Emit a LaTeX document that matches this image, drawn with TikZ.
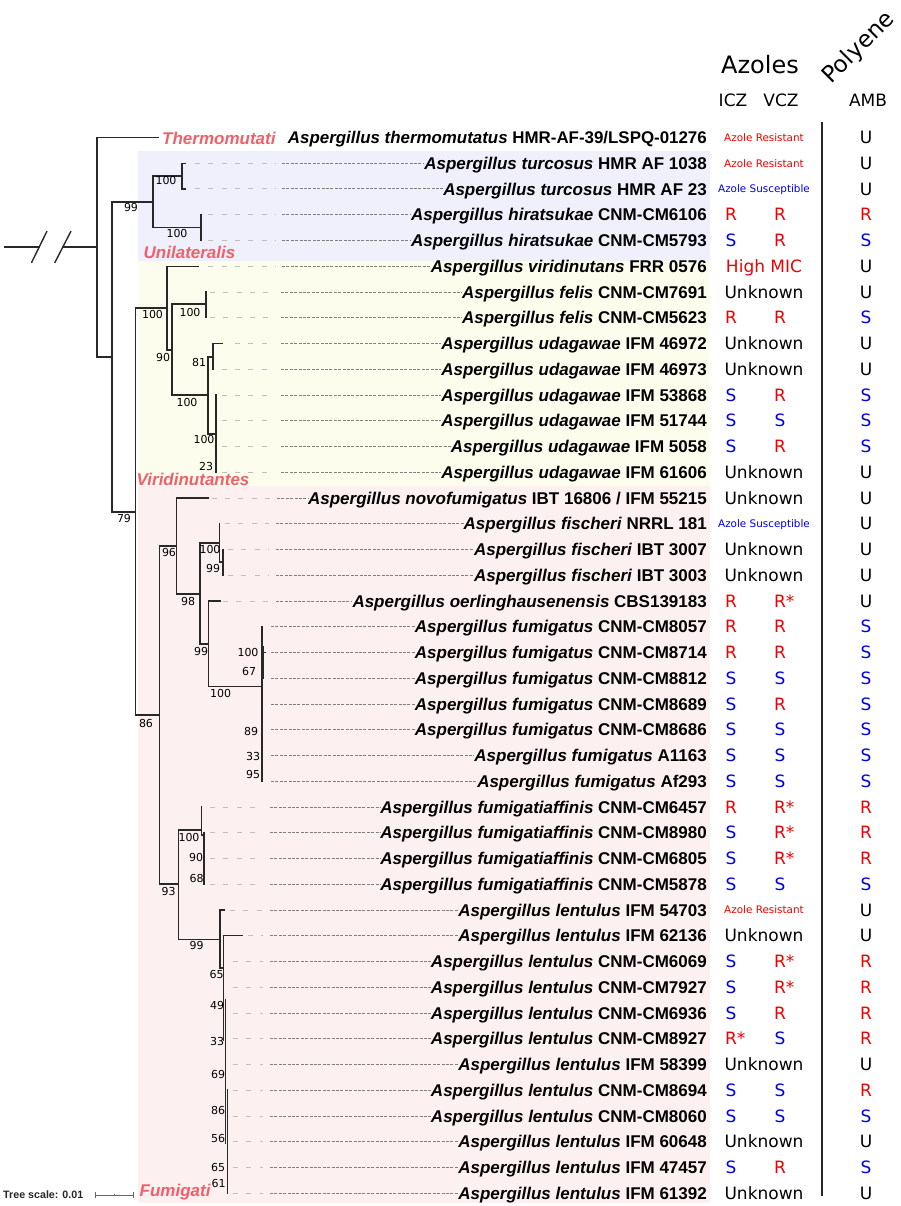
\documentclass[tikz,border=0pt]{standalone}
\usepackage{fontspec}
\setmainfont{Liberation Sans}
\newfontfamily\dv{DejaVu Sans}
\definecolor{clade}{RGB}{240,96,106}
\definecolor{lav}{RGB}{240,240,252}
\definecolor{yel}{RGB}{253,253,237}
\definecolor{pnk}{RGB}{253,240,240}
\definecolor{brc}{RGB}{40,40,40}
\definecolor{rd}{RGB}{240,0,0}
\definecolor{bl}{RGB}{0,0,230}
\tikzset{
 brl/.style={draw=brc, line width=1.4pt, line cap=rect, line join=miter},
 sup/.style={font=\dv\fontsize{11}{13}\selectfont, inner sep=0pt, text height=8pt, text depth=0pt},
 taxon/.style={font=\fontsize{17}{20}\selectfont\bfseries, anchor=east, inner sep=0pt, text height=12.2pt, text depth=0pt},
 clab/.style={font=\fontsize{17}{20}\selectfont\bfseries\itshape, text=clade, anchor=west, inner sep=0pt, text height=12.2pt, text depth=0pt},
 cell/.style={font=\dv\fontsize{17}{20}\selectfont, inner sep=0pt, text height=12.4pt, text depth=0pt},
 smallcell/.style={font=\dv\fontsize{10.4}{12}\selectfont, inner sep=0pt, text height=7.6pt, text depth=0pt},
 sparse/.style={draw=black!25, line width=1pt, dash pattern=on 5pt off 8.33pt},
 dense/.style={draw=black!50, line width=1pt, dash pattern=on 3pt off 1.4pt},
}
\newcommand\tx[6]{%
 \node[taxon] (t#1) at (707,#2) {\textit{Aspergillus #3} #4};
 \ifdim #5pt<\dimexpr #6pt-10pt\relax \draw[sparse] (#5,#2) -- ({#6-7},#2);\fi
 \draw[dense] (#6,#2) -- (t#1.west);
}
\newcommand\three[8]{%
 \node[cell,text=#3] (i#1) at (731,#2) {#4};
 \node[cell,text=#5] (v#1) at (780,#2) {#6};
 \node[cell,text=#7] (a#1) at (866,#2) {#8};
}
\newcommand\one[7]{%
 \node[#3,text=#4] (w#1) at (764,#2) {#5};
 \node[cell,text=#6] (a#1) at (866,#2) {#7};
}
\newcommand\Rs{R\rlap{*}}
\begin{document}
\begin{tikzpicture}[x=1pt,y=-1pt]
\useasboundingbox (0,0) rectangle (901,1206);
% backgrounds
\fill[lav] (138,151.5) rectangle (710,260.5);
\fill[yel] (138,260.5) rectangle (710,486);
\fill[pnk] (138,486) rectangle (710,1203);
% root with break
\draw[brl] (5,247) -- (39,247);
\draw[brl] (63,247) -- (97,247);
\draw[brl] (31.7,262.3) -- (46.7,231.7);
\draw[brl] (55,262.3) -- (70.7,231.7);
% tree
\draw[brl] (158,137.5) -- (97,137.5) -- (97,357) -- (112,357);
\draw[brl] (153,202) -- (112,202) -- (112,512) -- (135.5,512);
\draw[brl] (182,176) -- (153,176) -- (153,227.5) -- (201,227.5);
\draw[brl] (185,163.25) -- (182,163.25) -- (182,189) -- (185,189);
\draw[brl] (201,214.75) -- (201,240.5);
\draw[brl] (167,308) -- (135.5,308) -- (135.5,715) -- (159.3,715);
\draw[brl] (198,266.25) -- (167,266.25) -- (167,350) -- (172,350);
\draw[brl] (206,304) -- (172,304) -- (172,395) -- (208,395);
\draw[brl] (206,292) -- (206,317.75);
\draw[brl] (213,357) -- (208,357) -- (208,434) -- (216,434);
\draw[brl] (222,343.5) -- (213,343.5) -- (213,369.25);
\draw[brl] (216,395) -- (216,472.25);
\draw[brl] (176.7,546) -- (159.3,546) -- (159.3,884) -- (178.3,884);
\draw[brl] (208,498) -- (176.7,498) -- (176.7,594) -- (200,594);
\draw[brl] (219.5,543) -- (200,543) -- (200,644) -- (208.7,644);
\draw[brl] (219.5,523.75) -- (219.5,562) -- (223,562);
\draw[brl] (223,549.5) -- (223,575.25);
\draw[brl] (220,601) -- (208.7,601) -- (208.7,686.7) -- (262,686.7);
\draw[brl] (262,626.75) -- (262,781.25);
\draw[brl] (263.5,647) -- (263.5,678);
\draw[brl] (262,652.5) -- (265.5,652.5);
\draw[brl] (201.5,830) -- (178.3,830) -- (178.3,939.3) -- (220,939.3);
\draw[brl] (201.5,807) -- (201.5,835) -- (204,835);
\draw[brl] (204,832.75) -- (204,884.25);
\draw[brl] (224,910) -- (220,910) -- (220,968) -- (223.5,968);
\draw[brl] (242.7,935.75) -- (223.5,935.75) -- (223.5,1040);
\draw[brl] (225.5,1000) -- (225.5,1143);
\draw[brl] (227.5,1090) -- (227.5,1193.25);
% support values
\node[sup] (s1) at (131,208) {99};
\node[sup] (s2) at (166,181) {100};
\node[sup] (s3) at (177,233) {100};
\node[sup] (s4) at (124,518) {79};
\node[sup] (s5) at (152.5,314) {100};
\node[sup] (s6) at (163,357) {90};
\node[sup] (s7) at (190,312) {100};
\node[sup] (s8) at (187,402) {100};
\node[sup] (s9) at (199,362) {81};
\node[sup] (s10) at (204,439) {100};
\node[sup] (s11) at (206,466) {23};
\node[sup] (s12) at (146,723) {86};
\node[sup] (s13) at (169,552) {96};
\node[sup] (s14) at (188,601) {98};
\node[sup] (s15) at (210,549) {100};
\node[sup] (s16) at (213,568) {99};
\node[sup] (s17) at (201,651) {99};
\node[sup] (s18) at (220.7,693) {100};
\node[sup] (s19) at (248,652) {100};
\node[sup] (s20) at (249,671) {67};
\node[sup] (s21) at (251,731) {89};
\node[sup] (s22) at (253,756) {33};
\node[sup] (s23) at (253,774) {95};
\node[sup] (s24) at (168.7,891) {93};
\node[sup] (s25) at (189,837) {100};
\node[sup] (s26) at (196,857) {90};
\node[sup] (s27) at (196.5,878) {68};
\node[sup] (s28) at (196.7,945) {99};
\node[sup] (s29) at (216.7,974) {65};
\node[sup] (s30) at (217,1005) {49};
\node[sup] (s31) at (217,1041) {33};
\node[sup] (s32) at (218,1074) {69};
\node[sup] (s33) at (218,1110) {86};
\node[sup] (s34) at (218,1138) {56};
\node[sup] (s35) at (218,1167) {65};
\node[sup] (s36) at (218.7,1183) {61};
% clade labels
\node[clab] (cT) at (162,138.7) {Thermomutati};
\node[clab] (cU) at (143.5,252.5) {Unilateralis};
\node[clab] (cV) at (136.5,479.5) {Viridinutantes};
\node[clab] (cF) at (139.5,1190.3) {Fumigati};
% taxa
\node[taxon,font=\fontsize{16.9}{20}\selectfont\bfseries] (t1) at (707,137.5) {\textit{Aspergillus thermomutatus} HMR-AF-39/LSPQ-01276};
\tx{2}{163.25}{turcosus}{HMR AF 1038}{195}{282}
\tx{3}{189}{turcosus}{HMR AF 23}{195}{282}
\tx{4}{214.75}{hiratsukae}{CNM-CM6106}{208.3}{282}
\tx{5}{240.5}{hiratsukae}{CNM-CM5793}{208.3}{282}
\tx{6}{266.25}{viridinutans}{FRR 0576}{208.3}{282}
\tx{7}{292}{felis}{CNM-CM7691}{210}{281}
\tx{8}{317.75}{felis}{CNM-CM5623}{210}{281}
\tx{9}{343.5}{udagawae}{IFM 46972}{235}{281}
\tx{10}{369.25}{udagawae}{IFM 46973}{221.7}{281}
\tx{11}{395}{udagawae}{IFM 53868}{221.7}{281}
\tx{12}{420.75}{udagawae}{IFM 51744}{221.7}{281}
\tx{13}{446.5}{udagawae}{IFM 5058}{221.7}{281}
\tx{14}{472.25}{udagawae}{IFM 61606}{221.7}{281}
\tx{15}{498}{novofumigatus}{IBT 16806 / IFM 55215}{211.7}{277}
\tx{16}{523.75}{fischeri}{NRRL 181}{225}{276}
\tx{17}{549.5}{fischeri}{IBT 3007}{228}{276}
\tx{18}{575.25}{fischeri}{IBT 3003}{228}{276}
\tx{19}{601}{oerlinghausenensis}{CBS139183}{223}{276}
\tx{20}{626.75}{fumigatus}{CNM-CM8057}{271}{271}
\tx{21}{652.5}{fumigatus}{CNM-CM8714}{271}{271}
\tx{22}{678.25}{fumigatus}{CNM-CM8812}{271}{271}
\tx{23}{704}{fumigatus}{CNM-CM8689}{271}{271}
\tx{24}{729.75}{fumigatus}{CNM-CM8686}{271}{271}
\tx{25}{755.5}{fumigatus}{A1163}{271}{271}
\tx{26}{781.25}{fumigatus}{Af293}{271}{271}
\tx{27}{807}{fumigatiaffinis}{CNM-CM6457}{210}{270}
\tx{28}{832.75}{fumigatiaffinis}{CNM-CM8980}{210}{270}
\tx{29}{858.5}{fumigatiaffinis}{CNM-CM6805}{210}{270}
\tx{30}{884.25}{fumigatiaffinis}{CNM-CM5878}{210}{270}
\tx{31}{910}{lentulus}{IFM 54703}{230}{270}
\tx{32}{935.75}{lentulus}{IFM 62136}{248}{270}
\tx{33}{961.5}{lentulus}{CNM-CM6069}{233}{270}
\tx{34}{987.25}{lentulus}{CNM-CM7927}{233}{270}
\tx{35}{1013}{lentulus}{CNM-CM6936}{233}{270}
\tx{36}{1038.75}{lentulus}{CNM-CM8927}{233}{270}
\tx{37}{1064.5}{lentulus}{IFM 58399}{233}{270}
\tx{38}{1090.25}{lentulus}{CNM-CM8694}{233}{270}
\tx{39}{1116}{lentulus}{CNM-CM8060}{233}{270}
\tx{40}{1141.75}{lentulus}{IFM 60648}{233}{270}
\tx{41}{1167.5}{lentulus}{IFM 47457}{233}{270}
\tx{42}{1193.25}{lentulus}{IFM 61392}{233}{270}
% headers
\node[font=\dv\fontsize{24}{28}\selectfont, inner sep=0pt, text height=17.5pt, text depth=0pt] (hAz) at (760,64.5) {Azoles};
\node[font=\dv\fontsize{23}{27}\selectfont, inner sep=0pt, rotate=45] (hPol) at (859,48) {Polyene};
\node[cell] (hI) at (733,100) {ICZ};
\node[cell] (hV) at (781,100) {VCZ};
\node[cell] (hA) at (868,100) {AMB};
\coordinate (sepT) at (822,122);
\coordinate (sepB) at (822,1196);
\draw[line width=2pt, black!85] (sepT) -- (sepB);
% results
\one{1}{137.5}{smallcell}{rd}{Azole Resistant}{black}{U}
\one{2}{163.25}{smallcell}{rd}{Azole Resistant}{black}{U}
\one{3}{189}{smallcell}{bl}{Azole Susceptible}{black}{U}
\three{4}{214.75}{rd}{R}{rd}{R}{rd}{R}
\three{5}{240.5}{bl}{S}{rd}{R}{bl}{S}
\one{6}{266.25}{cell}{rd}{High MIC}{black}{U}
\one{7}{292}{cell}{black}{Unknown}{black}{U}
\three{8}{317.75}{rd}{R}{rd}{R}{bl}{S}
\one{9}{343.5}{cell}{black}{Unknown}{black}{U}
\one{10}{369.25}{cell}{black}{Unknown}{black}{U}
\three{11}{395}{bl}{S}{rd}{R}{bl}{S}
\three{12}{420.75}{bl}{S}{bl}{S}{bl}{S}
\three{13}{446.5}{bl}{S}{rd}{R}{bl}{S}
\one{14}{472.25}{cell}{black}{Unknown}{black}{U}
\one{15}{498}{cell}{black}{Unknown}{black}{U}
\one{16}{523.75}{smallcell}{bl}{Azole Susceptible}{black}{U}
\one{17}{549.5}{cell}{black}{Unknown}{black}{U}
\one{18}{575.25}{cell}{black}{Unknown}{black}{U}
\three{19}{601}{rd}{R}{rd}{\Rs}{black}{U}
\three{20}{626.75}{rd}{R}{rd}{R}{bl}{S}
\three{21}{652.5}{rd}{R}{rd}{R}{bl}{S}
\three{22}{678.25}{bl}{S}{bl}{S}{bl}{S}
\three{23}{704}{bl}{S}{rd}{R}{bl}{S}
\three{24}{729.75}{bl}{S}{bl}{S}{bl}{S}
\three{25}{755.5}{bl}{S}{bl}{S}{bl}{S}
\three{26}{781.25}{bl}{S}{bl}{S}{bl}{S}
\three{27}{807}{rd}{R}{rd}{\Rs}{rd}{R}
\three{28}{832.75}{bl}{S}{rd}{\Rs}{rd}{R}
\three{29}{858.5}{bl}{S}{rd}{\Rs}{rd}{R}
\three{30}{884.25}{bl}{S}{bl}{S}{bl}{S}
\one{31}{910}{smallcell}{rd}{Azole Resistant}{black}{U}
\one{32}{935.75}{cell}{black}{Unknown}{black}{U}
\three{33}{961.5}{bl}{S}{rd}{\Rs}{rd}{R}
\three{34}{987.25}{bl}{S}{rd}{\Rs}{rd}{R}
\three{35}{1013}{bl}{S}{rd}{R}{rd}{R}
\three{36}{1038.75}{rd}{\Rs}{bl}{S}{rd}{R}
\one{37}{1064.5}{cell}{black}{Unknown}{black}{U}
\three{38}{1090.25}{bl}{S}{bl}{S}{rd}{R}
\three{39}{1116}{bl}{S}{bl}{S}{bl}{S}
\one{40}{1141.75}{cell}{black}{Unknown}{black}{U}
\three{41}{1167.5}{bl}{S}{rd}{R}{bl}{S}
\one{42}{1193.25}{cell}{black}{Unknown}{black}{U}
% tree scale
\node[font=\fontsize{10.7}{12}\selectfont\bfseries, anchor=west, inner sep=0pt, text height=7.7pt, text depth=0pt, text=black!85] (ts) at (3,1195) {Tree scale: 0.01};
\coordinate (sbL) at (95,1195);
\coordinate (sbR) at (133,1195);
\draw[black!60, line width=0.9pt] (sbL) -- (sbR);
\draw[black!60, line width=0.9pt] ([yshift=-3pt]sbL) -- ([yshift=3pt]sbL);
\draw[black!60, line width=0.9pt] ([yshift=-3pt]sbR) -- ([yshift=3pt]sbR);
\draw[black!60, line width=0.9pt] (114,1193.8) -- (114,1196.2);
\end{tikzpicture}
\end{document}
